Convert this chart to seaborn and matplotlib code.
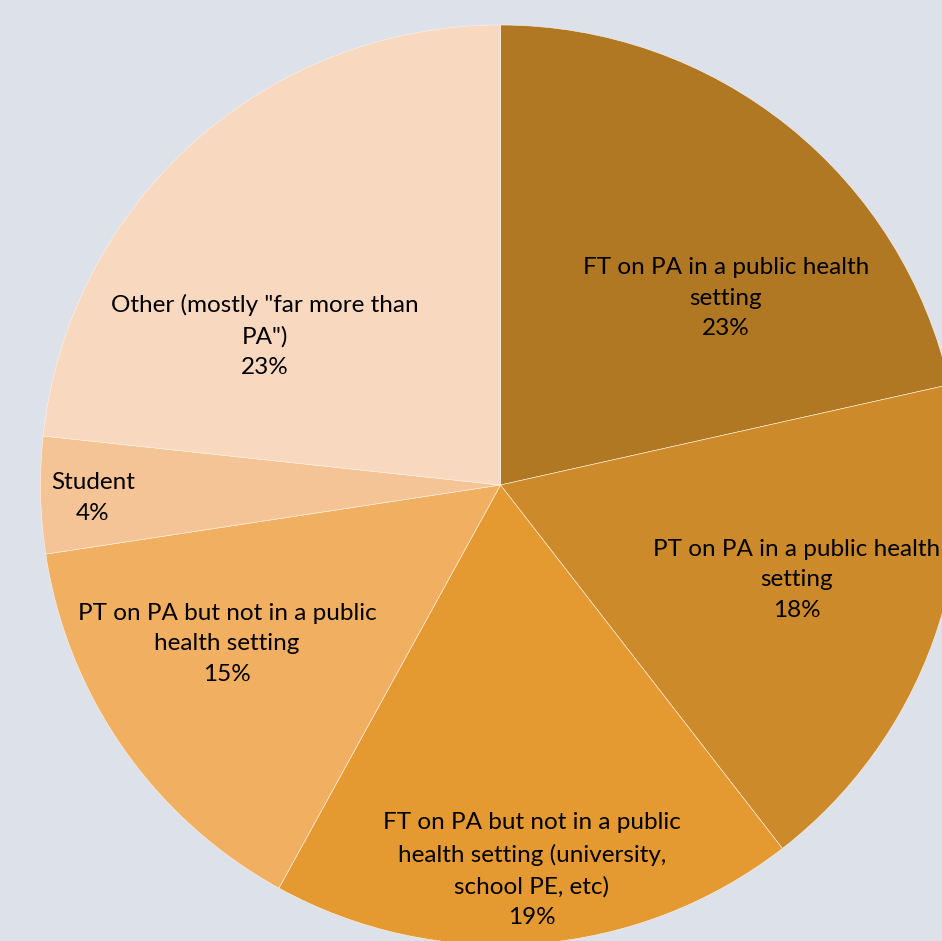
import matplotlib
matplotlib.use("Agg")
import matplotlib.pyplot as plt
import seaborn as sns

categories = [
    "FT on PA in a public health\nsetting",
    "PT on PA in a public health\nsetting",
    "FT on PA but not in a public\nhealth setting (university,\nschool PE, etc)",
    "PT on PA but not in a public\nhealth setting",
    "Student",
    "Other (mostly \"far more than\nPA\")",
]
values = [21.5, 18.0, 18.5, 14.6, 4.1, 23.3]
pct_labels = ["23%", "18%", "19%", "15%", "4%", "23%"]
colors = ["#B07822", "#CD8A2A", "#E49A30", "#F1AF62", "#F4C496", "#F8D8BE"]

# label anchor positions (pixel coords, top-origin)
label_pos = [(726, 298), (797, 580), (532, 870), (227, 644), (93, 498), (265, 336)]

sns.set_theme(style="white")
plt.rcParams["font.family"] = ["Lato", "DejaVu Sans"]

W, H = 942, 941
fig = plt.figure(figsize=(W / 100, H / 100), dpi=100, facecolor="#DCE1EA")
ax = fig.add_axes([0, 0, 1, 1])
ax.set_facecolor("#DCE1EA")

cx, cy, r = 500.5, H - 485, 460
ax.pie(values, colors=sns.color_palette(colors), startangle=90, counterclock=False,
       center=(cx, cy), radius=r,
       wedgeprops=dict(edgecolor="#FFF4E6", linewidth=0.4))
ax.set_xlim(0, W)
ax.set_ylim(0, H)
ax.set_aspect("auto")
ax.axis("off")

for cat, pct, (px, py) in zip(categories, pct_labels, label_pos):
    ax.text(px, H - py, cat + "\n" + pct, ha="center", va="center",
            fontsize=17.5, color="#000000", linespacing=1.57)

fig.savefig("out.png", dpi=100, facecolor=fig.get_facecolor())
